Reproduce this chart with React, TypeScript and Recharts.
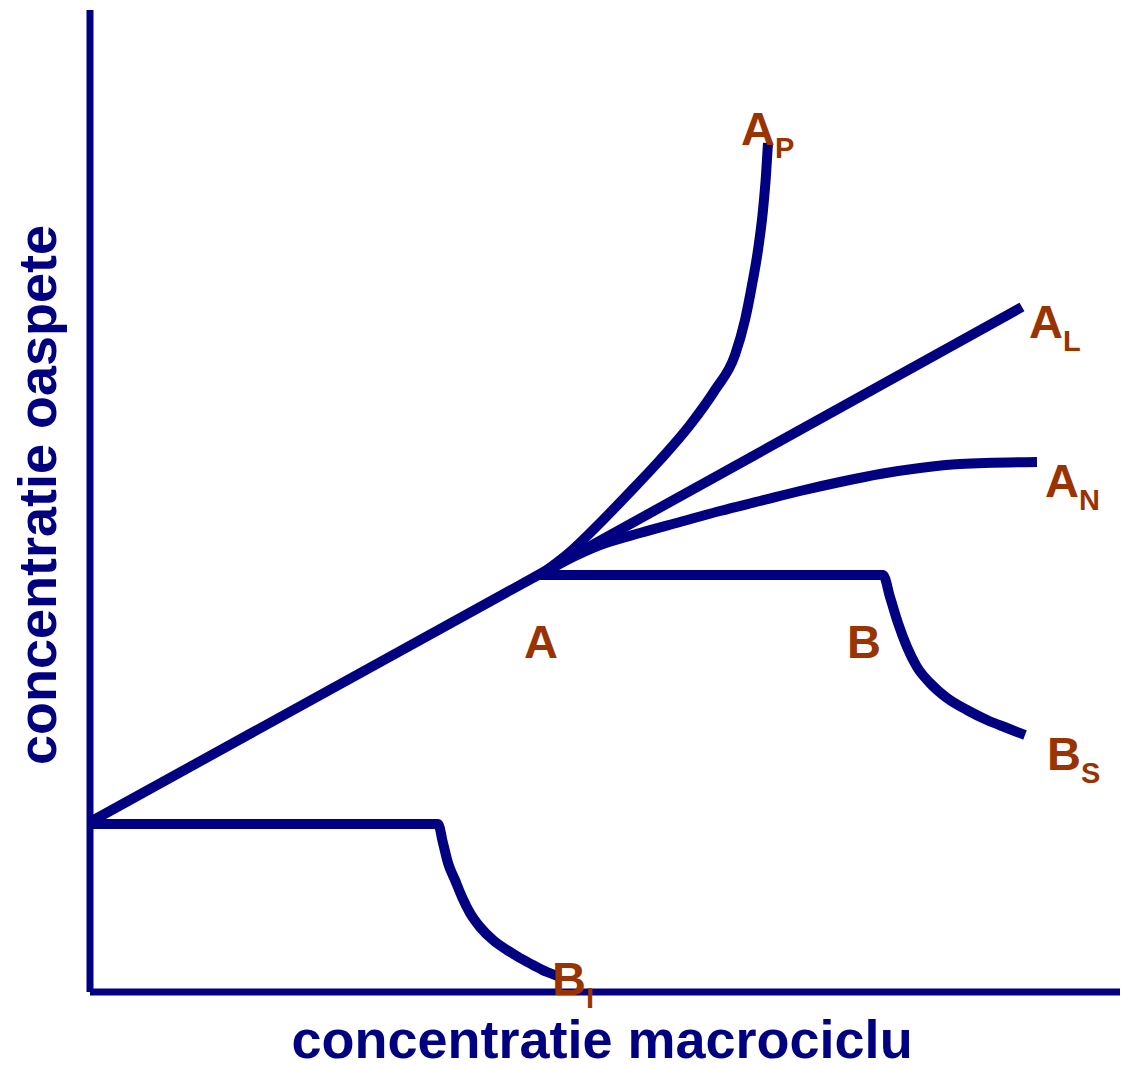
import React from "react";
import { ComposedChart, Line, XAxis, YAxis, ReferenceDot, Label } from "recharts";

// values, in arbitrary concentration units
const linearAL = [
  { x: 0, y: 170 },
  { x: 450, y: 418 },
  { x: 932, y: 685 },
];

const curveAP = [
  { x: 450, y: 417 }, { x: 480, y: 440 }, { x: 510, y: 469 }, { x: 540, y: 500 },
  { x: 570, y: 532 }, { x: 600, y: 567 }, { x: 625, y: 602 }, { x: 645, y: 637 },
  { x: 655, y: 672 }, { x: 662, y: 707 }, { x: 668, y: 742 }, { x: 673, y: 782 },
  { x: 676, y: 817 }, { x: 678, y: 849 },
];

const curveAN = [
  { x: 450, y: 417 }, { x: 485, y: 436 }, { x: 510, y: 447 }, { x: 550, y: 459 },
  { x: 590, y: 470 }, { x: 630, y: 481 }, { x: 670, y: 491 }, { x: 710, y: 501 },
  { x: 750, y: 510 }, { x: 790, y: 518 }, { x: 830, y: 524 }, { x: 870, y: 528 },
  { x: 947, y: 530 },
];

const curveBS = [
  { x: 450, y: 417 }, { x: 793, y: 417 }, { x: 800, y: 395 }, { x: 808, y: 369 },
  { x: 817, y: 345 }, { x: 827, y: 325 }, { x: 840, y: 309 }, { x: 857, y: 294 },
  { x: 877, y: 282 }, { x: 897, y: 272 }, { x: 917, y: 264 }, { x: 935, y: 257 },
];

const curveBI = [
  { x: 0, y: 168 }, { x: 348, y: 168 }, { x: 353, y: 149 },
  { x: 358, y: 129 }, { x: 365, y: 112 }, { x: 372, y: 95 }, { x: 380, y: 79 },
  { x: 390, y: 65 }, { x: 403, y: 52 }, { x: 417, y: 42 }, { x: 430, y: 34 },
  { x: 443, y: 27 }, { x: 457, y: 20 }, { x: 468, y: 16 },
];

const pointLabels = [
  { main: "A", sub: "P", x: 651, y: 847 },
  { main: "A", sub: "L", x: 939, y: 654 },
  { main: "A", sub: "N", x: 955, y: 495 },
  { main: "A", sub: "", x: 434, y: 334 },
  { main: "B", sub: "", x: 757, y: 334 },
  { main: "B", sub: "S", x: 957, y: 222 },
  { main: "B", sub: "I", x: 462, y: -3 },
];

const xTitle = "concentratie macrociclu";
const yTitle = "concentratie oaspete";

const NAVY = "#000080";
const BROWN = "#993300";
const FONT = "'Liberation Sans', Arial, sans-serif";

const series = [linearAL, curveAP, curveAN, curveBS, curveBI];

export default function App() {
  return (
    <div style={{ position: "absolute", left: 0, top: 0, background: "#fff" }}>
      <ComposedChart width={1122} height={1065} margin={{ top: 10, right: 2, bottom: 72, left: 89 }}>
        <XAxis
          type="number"
          dataKey="x"
          domain={[0, 1030]}
          allowDataOverflow
          height={1}
          tick={false}
          tickLine={false}
          axisLine={{ stroke: NAVY, strokeWidth: 7 }}
        >
          <Label
            content={() => (
              <text x={602} y={1058} textAnchor="middle" fontFamily={FONT} fontWeight="bold" fontSize={54} fill={NAVY}>
                {xTitle}
              </text>
            )}
          />
        </XAxis>
        <YAxis
          type="number"
          dataKey="y"
          domain={[0, 982]}
          allowDataOverflow
          width={1}
          tick={false}
          tickLine={false}
          axisLine={{ stroke: NAVY, strokeWidth: 7 }}
        >
          <Label
            content={() => (
              <text
                transform="translate(56,495) rotate(-90)"
                textAnchor="middle"
                fontFamily={FONT}
                fontWeight="bold"
                fontSize={54}
                fill={NAVY}
              >
                {yTitle}
              </text>
            )}
          />
        </YAxis>
        {series.map((d, i) => (
          <Line
            key={i}
            data={d}
            dataKey="y"
            type={i === 0 ? "linear" : "monotone"}
            stroke={NAVY}
            strokeWidth={10}
            dot={false}
            activeDot={false}
            isAnimationActive={false}
          />
        ))}
        {pointLabels.map((l) => (
          <ReferenceDot
            key={l.main + l.sub + l.x}
            x={l.x}
            y={l.y}
            r={0}
            ifOverflow="visible"
            shape={(p: any) => (
              <text x={p.cx} y={p.cy} fontFamily={FONT} fontWeight="bold" fill={BROWN}>
                <tspan fontSize={47}>{l.main}</tspan>
                {l.sub && (
                  <tspan fontSize={29} dy={13}>
                    {l.sub}
                  </tspan>
                )}
              </text>
            )}
          />
        ))}
      </ComposedChart>
    </div>
  );
}
